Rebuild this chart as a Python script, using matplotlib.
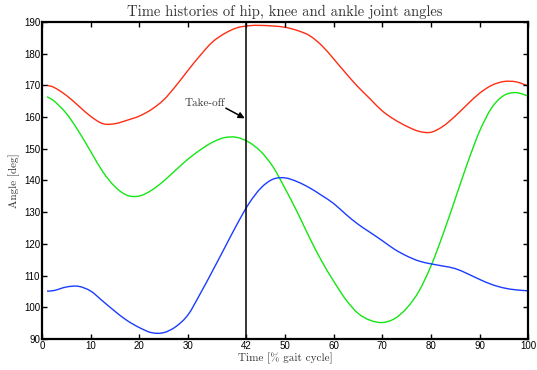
import matplotlib
matplotlib.use("Agg")
import matplotlib.pyplot as plt
from matplotlib.path import Path
from matplotlib.patches import PathPatch

# gait cycle percentage
gait = [1, 2.5, 5, 7.5, 10, 12.5, 15, 17.5, 20, 22.5, 25, 27.5, 30, 32.5, 35,
        37.5, 40, 42.5, 45, 47.5, 50, 52.5, 55, 57.5, 60, 62.5, 65, 67.5, 70,
        72.5, 75, 77.5, 80, 82.5, 85, 87.5, 90, 92.5, 95, 97.5, 100]

hip = [170.0, 169.3, 166.8, 163.5, 160.2, 157.9, 157.9, 159.0, 160.3, 162.4,
       165.4, 169.8, 174.7, 179.4, 183.6, 186.3, 188.1, 188.8, 188.9, 188.7,
       188.3, 187.3, 185.7, 182.6, 178.3, 173.8, 169.5, 165.7, 161.9, 159.2,
       157.1, 155.5, 155.2, 157.1, 160.3, 164.0, 167.5, 170.0, 171.2, 171.1,
       169.8]

knee = [166.4, 165.0, 161.1, 155.5, 149.1, 142.7, 138.0, 135.3, 135.1, 136.9,
        139.8, 143.3, 146.7, 149.6, 152.0, 153.5, 153.6, 152.1, 149.1, 144.3,
        137.4, 130.0, 122.0, 114.6, 108.2, 102.4, 98.1, 95.9, 95.2, 96.4,
        99.7, 105.0, 113.0, 123.1, 134.2, 145.4, 155.5, 162.9, 166.8, 167.7,
        166.6]

ankle = [105.1, 105.3, 106.4, 106.6, 105.1, 101.9, 98.7, 95.8, 93.6, 92.0,
         92.0, 93.9, 97.6, 104.2, 111.3, 118.6, 125.9, 132.6, 137.6, 140.4,
         140.8, 139.6, 137.7, 135.3, 132.7, 129.3, 126.2, 123.6, 121.0, 118.3,
         116.2, 114.6, 113.7, 113.0, 112.2, 110.6, 108.8, 107.2, 106.1, 105.5,
         105.2]

takeoff = 42
xticks = [0, 10, 20, 30, 42, 50, 60, 70, 80, 90, 100]
yticks = [90, 100, 110, 120, 130, 140, 150, 160, 170, 180, 190]


def smooth_line(ax, xs, ys, **kw):
    """Draw the series as a smooth Bezier path through the data points."""
    pts = list(zip(xs, ys))
    n = len(pts)
    verts = [pts[0]]
    codes = [Path.MOVETO]
    for i in range(n - 1):
        p0 = pts[i - 1] if i > 0 else pts[i]
        p1 = pts[i]
        p2 = pts[i + 1]
        p3 = pts[i + 2] if i + 2 < n else pts[i + 1]
        c1 = (p1[0] + (p2[0] - p0[0]) / 6.0, p1[1] + (p2[1] - p0[1]) / 6.0)
        c2 = (p2[0] - (p3[0] - p1[0]) / 6.0, p2[1] - (p3[1] - p1[1]) / 6.0)
        verts += [c1, c2, p2]
        codes += [Path.CURVE4] * 3
    ax.add_patch(PathPatch(Path(verts, codes), fill=False, **kw))


fig = plt.figure(figsize=(5.37, 3.70), dpi=100)
ax = fig.add_axes([0.0785, 0.0838, 0.905, 0.857])

smooth_line(ax, gait, hip, edgecolor='#ff2d12', lw=1.0)
smooth_line(ax, gait, knee, edgecolor='#14e614', lw=1.0)
smooth_line(ax, gait, ankle, edgecolor='#1a3cff', lw=1.0)
ax.axvline(takeoff, color='black', lw=1.1)

ax.text(37.6, 164.4, 'Take-off', family='cmr10', fontsize=8, color='#333333',
        ha='right', va='center')
ax.annotate('', xy=(41.7, 159.6), xytext=(37.8, 162.8),
            arrowprops=dict(arrowstyle='-|>', color='black', lw=1.1,
                            mutation_scale=9, shrinkA=0, shrinkB=0))

ax.set_xlim(0, 100)
ax.set_ylim(90, 190)
ax.set_xticks(xticks)
ax.set_yticks(yticks)
ax.tick_params(direction='in', length=3.5, width=1, top=True, right=True,
               labelsize=7, pad=1.5)
for lab in ax.get_xticklabels() + ax.get_yticklabels():
    lab.set_family('Liberation Sans')
for s in ax.spines.values():
    s.set_linewidth(1.6)

ax.set_title('Time histories of hip, knee and ankle joint angles',
             family='cmr10', fontsize=10.5, color='#333333', pad=4)
ax.set_xlabel('Time [% gait cycle]', family='cmr10', fontsize=8,
              color='#333333', labelpad=1)
ax.set_ylabel('Angle [deg]', family='cmr10', fontsize=8, color='#333333',
              labelpad=3)

fig.savefig('out.png', dpi=100)
